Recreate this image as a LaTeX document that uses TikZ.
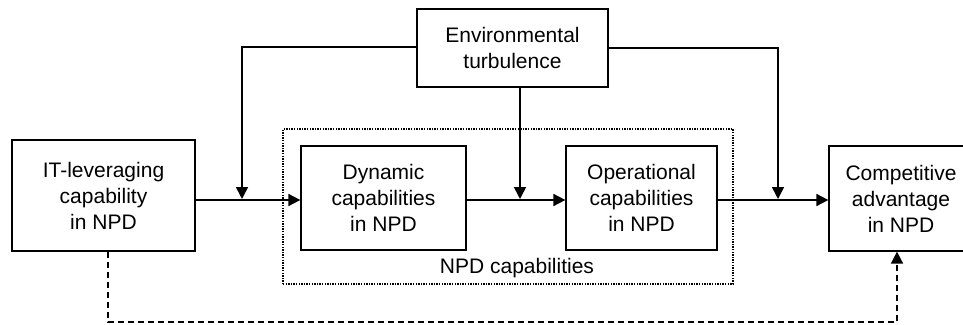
\documentclass[tikz,border=0pt]{standalone}
\usepackage{fontspec}
\setmainfont{Liberation Sans}
\usepackage{tikz}
\usetikzlibrary{arrows.meta,positioning,calc}

\begin{document}
\begin{tikzpicture}[x=1pt, y=-1pt,
    every node/.style={font=\fontsize{21}{26}\selectfont},
    box/.style={draw, line width=1.2pt, align=center, inner sep=0pt},
    arr/.style={line width=1.6pt, -{Triangle[length=12pt, width=12pt]}}]
        \useasboundingbox (0,0) rectangle (963,324);
        \clip (0,0) rectangle (963,324);

        % Constructs
        \node[box, minimum width=183, minimum height=111] (it) at (103.5,195.5) {IT-leveraging\\capability\\in NPD};
        \node[box, minimum width=191, minimum height=78] (env) at (512.5,48) {Environmental\\turbulence};
        \node[box, minimum width=165, minimum height=104] (dyn) at (383.5,198) {Dynamic\\capabilities\\in NPD};
        \node[box, minimum width=151, minimum height=104] (ops) at (641.5,198) {Operational\\capabilities\\in NPD};
        \node[box, minimum width=144, minimum height=105] (comp) at (901,198.5) {Competitive\\advantage\\in NPD};

        % NPD capabilities group
        \node[draw, line width=1.3pt, dash pattern=on 1.4pt off 1.2pt, minimum width=450, minimum height=155, inner sep=0pt] (npd) at (508,206.5) {};
        \node (npdlabel) at (517,268) {NPD capabilities};

        % Main path
        \coordinate (row) at (0,200);
        \draw[arr] (it.east |- row) -- (dyn.west |- row);
        \draw[arr] (dyn.east |- row) -- (ops.west |- row);
        \draw[arr] (ops.east |- row) -- (comp.west |- row);

        % Moderating effects
        \coordinate (m1) at (242,199);
        \coordinate (m2) at (520,199);
        \coordinate (m3) at (778,199);
        \draw[arr] (env.west |- 0,47) -| (m1);
        \draw[arr] (env.south -| m2) -- (m2);
        \draw[arr] (env.east |- 0,48) -| (m3);

        % Direct effect
        \coordinate (d1) at (108,322);
        \coordinate (d2) at (897,322);
        \draw[arr, dash pattern=on 6pt off 4pt] (it.south -| d1) -- (d1) -- (d2) -- (comp.south -| d2);
    \end{tikzpicture}
\end{document}
